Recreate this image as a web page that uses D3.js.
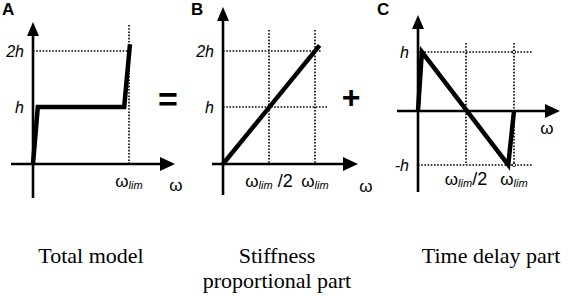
<!DOCTYPE html>
<html lang="en">
<head>
<meta charset="UTF-8">
<title>Total model = stiffness part + time delay part</title>
<script src="https://d3js.org/d3.v7.min.js"></script>
<style>
  body { margin: 0; background: #fff; }
  text { font-family: "Liberation Sans", Arial, sans-serif; fill: #000; }
  .caption { font-family: "Liberation Serif", "Times New Roman", serif; font-size: 22px; }
</style>
</head>
<body>
<svg width="569" height="296"></svg>
<script>
    // curves, in units of (omega / omega_lim, value / h)
    const totalModel = [[0, 0], [0.05, 1], [0.95, 1], [1.01, 2.12]];
    const stiffnessPart = [[0, 0], [1.05, 2.1]];
    const delayPart = [[0, 0], [0.04, 1], [0.94, -1], [1, 0]];

    // tick labels
    const xTicksA = [{v: 1, sub: true, tail: ""}];
    const xTicksB = [{v: 0.5, sub: true, tail: " /2"}, {v: 1, sub: true, tail: ""}];
    const xTicksC = [{v: 0.5, sub: true, tail: "/2"}, {v: 1, sub: true, tail: ""}];
    const yTicksA = [{v: 1, label: "h"}, {v: 2, label: "2h"}];
    const yTicksB = [{v: 1, label: "h"}, {v: 2, label: "2h"}];
    const yTicksC = [{v: 1, label: "h"}, {v: -1, label: "-h"}];

    const captionA = ["Total model"];
    const captionB = ["Stiffness", "proportional part"];
    const captionC = ["Time delay part"];

    let svg = d3.select("svg");

    // layout for each panel (pixel boxes only, the values come from the arrays above)
    let panels = [
        {letter: "A", letterX: 2, data: totalModel, xTicks: xTicksA, yTicks: yTicksA,
         x: d3.scaleLinear().domain([0, 1]).range([33, 129]),
         y: d3.scaleLinear().domain([0, 1, 2]).range([164, 107, 51]),
         xAxis: [11, 175], yAxis: [198, 22], vTop: 25, hRight: {1: null, 2: 129},
         omegaX: 176, omegaY: 191, tickY: 187, caption: captionA, capX: 91},
        {letter: "B", letterX: 191, data: stiffnessPart, xTicks: xTicksB, yTicks: yTicksB,
         x: d3.scaleLinear().domain([0, 1]).range([223, 315]),
         y: d3.scaleLinear().domain([0, 1, 2]).range([164, 107, 51]),
         xAxis: [212, 358], yAxis: [195, 7], vTop: 30, hRight: {1: 327, 2: 322},
         omegaX: 366, omegaY: 192, tickY: 187, caption: captionB, capX: 277},
        {letter: "C", letterX: 377, data: delayPart, xTicks: xTicksC, yTicks: yTicksC,
         x: d3.scaleLinear().domain([0, 1]).range([418, 514]),
         y: d3.scaleLinear().domain([-1, 0, 1]).range([165, 111, 52]),
         xAxis: [397, 560], yAxis: [192, 15], vTop: 43, vBottom: 165, hRight: {1: 533, "-1": 533},
         omegaX: 547, omegaY: 134, tickY: 185, caption: captionC, capX: 491}
    ];

    let line = d3.line();

    panels.forEach(p => {
        let g = svg.append("g");
        let x0 = p.x(0), y0 = p.y(0);

        // dotted guide lines
        let guides = g.append("g")
            .attr("stroke", "#000")
            .attr("stroke-width", 1.6)
            .attr("stroke-dasharray", "1.6,1.6");

        p.xTicks.forEach(t => {
            guides.append("line")
                .attr("x1", p.x(t.v)).attr("x2", p.x(t.v))
                .attr("y1", p.vTop).attr("y2", p.vBottom || y0);
        });
        p.yTicks.forEach(t => {
            let right = p.hRight[t.v];
            if (right == null) return;
            guides.append("line")
                .attr("x1", x0).attr("x2", right)
                .attr("y1", p.y(t.v)).attr("y2", p.y(t.v));
        });

        // axes with arrow heads
        g.append("line")
            .attr("x1", p.xAxis[0]).attr("x2", p.xAxis[1] - 10)
            .attr("y1", y0).attr("y2", y0)
            .attr("stroke", "#000").attr("stroke-width", 2.6);
        g.append("line")
            .attr("x1", x0).attr("x2", x0)
            .attr("y1", p.yAxis[0]).attr("y2", p.yAxis[1] + 10)
            .attr("stroke", "#000").attr("stroke-width", 2.6);
        g.append("path")
            .attr("d", `M${p.xAxis[1]},${y0} L${p.xAxis[1] - 15},${y0 - 7} L${p.xAxis[1] - 15},${y0 + 7} Z`)
            .attr("fill", "#000");
        g.append("path")
            .attr("d", `M${x0},${p.yAxis[1]} L${x0 - 6},${p.yAxis[1] + 14} L${x0 + 6},${p.yAxis[1] + 14} Z`)
            .attr("fill", "#000");

        // the curve
        g.append("path")
            .attr("d", line(p.data.map(d => [p.x(d[0]), p.y(d[1])])))
            .attr("fill", "none")
            .attr("stroke", "#000")
            .attr("stroke-width", 4.5)
            .attr("stroke-linejoin", "miter");

        // y tick labels
        p.yTicks.forEach(t => {
            g.append("text")
                .attr("x", x0 - 9)
                .attr("y", p.y(t.v))
                .attr("dy", "0.36em")
                .attr("text-anchor", "end")
                .style("font-size", "16px")
                .style("font-style", "italic")
                .text(t.label);
        });

        // x tick labels: omega with "lim" subscript
        p.xTicks.forEach(t => {
            let txt = g.append("text")
                .attr("x", p.x(t.v))
                .attr("y", p.tickY)
                .attr("text-anchor", "middle")
                .style("font-size", "17px");
            txt.append("tspan").text("\u03C9");
            txt.append("tspan")
                .attr("dy", 2)
                .style("font-size", "11px")
                .style("font-style", "italic")
                .text("lim");
            if (t.tail) {
                txt.append("tspan")
                    .attr("dy", -2)
                    .style("font-size", "18px")
                    .text(t.tail);
            }
        });

        // axis name
        g.append("text")
            .attr("x", p.omegaX).attr("y", p.omegaY)
            .attr("text-anchor", "middle")
            .style("font-size", "17px")
            .text("\u03C9");

        // panel letter
        g.append("text")
            .attr("x", p.letterX).attr("y", 15)
            .style("font-size", "17px")
            .style("font-weight", "bold")
            .text(p.letter);

        // caption
        p.caption.forEach((c, i) => {
            g.append("text")
                .attr("class", "caption")
                .attr("x", p.capX)
                .attr("y", 263 + i * 25)
                .attr("text-anchor", "middle")
                .text(c);
        });
    });

    // small markers on the delay panel at omega_lim
    let pc = panels[2];
    svg.append("g").selectAll("circle")
        .data([1, -1])
        .join("circle")
        .attr("cx", pc.x(1)).attr("cy", d => pc.y(d))
        .attr("r", 1.6)
        .attr("fill", "#fff")
        .attr("stroke", "#000")
        .attr("stroke-width", 0.8);

    // operators between panels
    svg.append("text")
        .attr("x", 168).attr("y", 99).attr("dy", "0.35em")
        .attr("text-anchor", "middle")
        .style("font-size", "34px").style("font-weight", "bold")
        .text("=");
    svg.append("text")
        .attr("x", 351).attr("y", 97).attr("dy", "0.35em")
        .attr("text-anchor", "middle")
        .style("font-size", "32px").style("font-weight", "bold")
        .text("+");
</script>
</body>
</html>
